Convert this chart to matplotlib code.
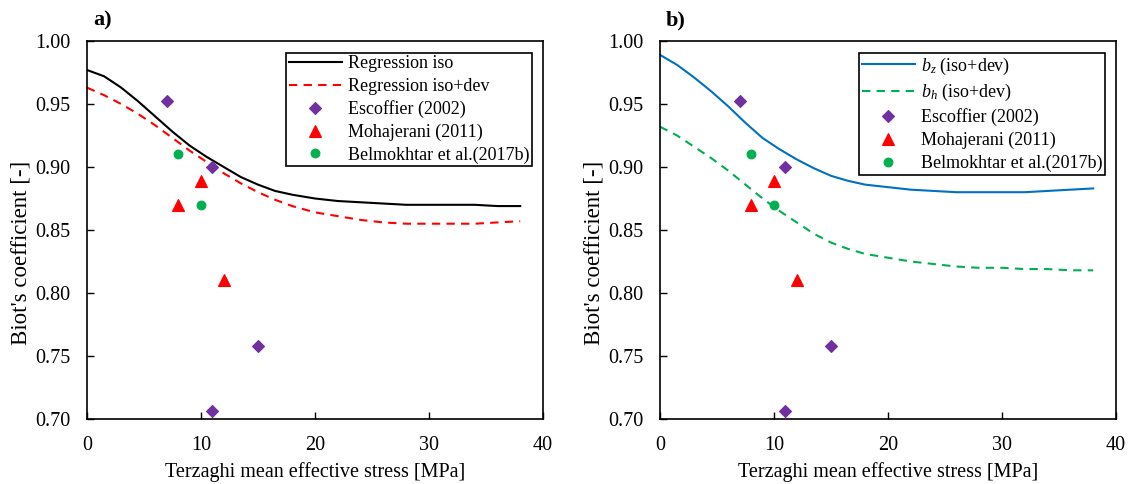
import matplotlib
matplotlib.use('Agg')
import matplotlib.pyplot as plt
from matplotlib import rcParams
from matplotlib.ticker import FormatStrFormatter

rcParams['font.family'] = 'Liberation Serif'
rcParams['mathtext.fontset'] = 'custom'
rcParams['mathtext.it'] = 'Liberation Serif:italic'
rcParams['mathtext.rm'] = 'Liberation Serif'
rcParams['font.size'] = 14.5

# regression curves
xCurve = [0, 1.5, 3, 4.5, 6, 7.5, 9, 10.5, 12, 13.5, 15, 16.5, 18, 20, 22, 24, 26, 28, 30, 32, 34, 36, 38]
bIso = [0.977, 0.972, 0.963, 0.952, 0.940, 0.928, 0.917, 0.908, 0.900, 0.892, 0.886, 0.881,
        0.878, 0.875, 0.873, 0.872, 0.871, 0.870, 0.870, 0.870, 0.870, 0.869, 0.869]
bIsoDev = [0.963, 0.957, 0.950, 0.942, 0.933, 0.923, 0.913, 0.904, 0.895, 0.887, 0.880, 0.874,
           0.869, 0.864, 0.861, 0.858, 0.856, 0.855, 0.855, 0.855, 0.855, 0.856, 0.857]
bz = [0.989, 0.981, 0.971, 0.960, 0.948, 0.935, 0.923, 0.914, 0.906, 0.899, 0.893, 0.889,
      0.886, 0.884, 0.882, 0.881, 0.880, 0.880, 0.880, 0.880, 0.881, 0.882, 0.883]
bh = [0.932, 0.925, 0.916, 0.907, 0.897, 0.886, 0.875, 0.865, 0.856, 0.847, 0.840, 0.835,
      0.831, 0.828, 0.825, 0.823, 0.821, 0.820, 0.820, 0.819, 0.819, 0.818, 0.818]

# experimental data
escX = [7, 11, 15, 11]
escY = [0.952, 0.900, 0.758, 0.706]
mohX = [8, 10, 12]
mohY = [0.870, 0.889, 0.810]
belX = [8, 10]
belY = [0.910, 0.870]

purple = '#7030A0'
red = '#FF0000'
green = '#00B050'
blue = '#0070C0'

fig = plt.figure(figsize = [11.32, 4.84], dpi = 100)
ax1 = fig.add_axes([87/1132, 1 - 419/484, 456/1132, 378/484])
ax2 = fig.add_axes([660/1132, 1 - 419/484, 456/1132, 378/484])

def points(ax):
    ax.plot(escX, escY, ls = 'none', marker = 'D', ms = 6.2, mew = 0.8, color = purple, label = 'Escoffier (2002)')
    ax.plot(mohX, mohY, ls = 'none', marker = '^', ms = 8.8, mew = 0.8, color = red, label = 'Mohajerani (2011)')
    ax.plot(belX, belY, ls = 'none', marker = 'o', ms = 6.3, mew = 0.8, color = green, label = 'Belmokhtar et al.(2017b)')

ax1.plot(xCurve, bIso, color = 'black', lw = 1.5, label = 'Regression iso')
ax1.plot(xCurve, bIsoDev, color = red, lw = 1.5, ls = (0, (4, 3)), label = 'Regression iso+dev')
points(ax1)

ax2.plot(xCurve, bz, color = blue, lw = 1.5, label = r'$b_z$ (iso+dev)')
ax2.plot(xCurve, bh, color = green, lw = 1.5, ls = (0, (4, 3)), label = r'$b_h$ (iso+dev)')
points(ax2)

for ax, tag in [(ax1, 'a)'), (ax2, 'b)')]:
    ax.set_xlim(0, 40)
    ax.set_ylim(0.70, 1.00)
    ax.set_xticks([0, 10, 20, 30, 40])
    ax.set_yticks([0.70, 0.75, 0.80, 0.85, 0.90, 0.95, 1.00])
    ax.yaxis.set_major_formatter(FormatStrFormatter('%.2f'))
    ax.tick_params(direction = 'in', length = 5, width = 1, pad = 12)
    for s in ax.spines.values():
        s.set_linewidth(1.2)
    ax.set_xlabel('Terzaghi mean effective stress [MPa]')
    ax.set_ylabel("Biot's coefficient [-]", fontsize = 16.5)
    ax.xaxis.set_label_coords(0.5, -0.115)
    ax.yaxis.set_label_coords(-0.121, 0.44)
    ax.text(0.013, 1.042, tag, transform = ax.transAxes, fontweight = 'bold', fontsize = 16)
    leg = ax.legend(loc = 'upper right', bbox_to_anchor = (0.976, 0.969), fancybox = False,
                    edgecolor = 'black', framealpha = 1, borderpad = 0.15, labelspacing = 0.3,
                    handlelength = 2.9, handletextpad = 0.35, borderaxespad = 0,
                    fontsize = 13, numpoints = 1)
    leg.get_frame().set_linewidth(1.2)

fig.savefig('out.png', dpi = 100)
